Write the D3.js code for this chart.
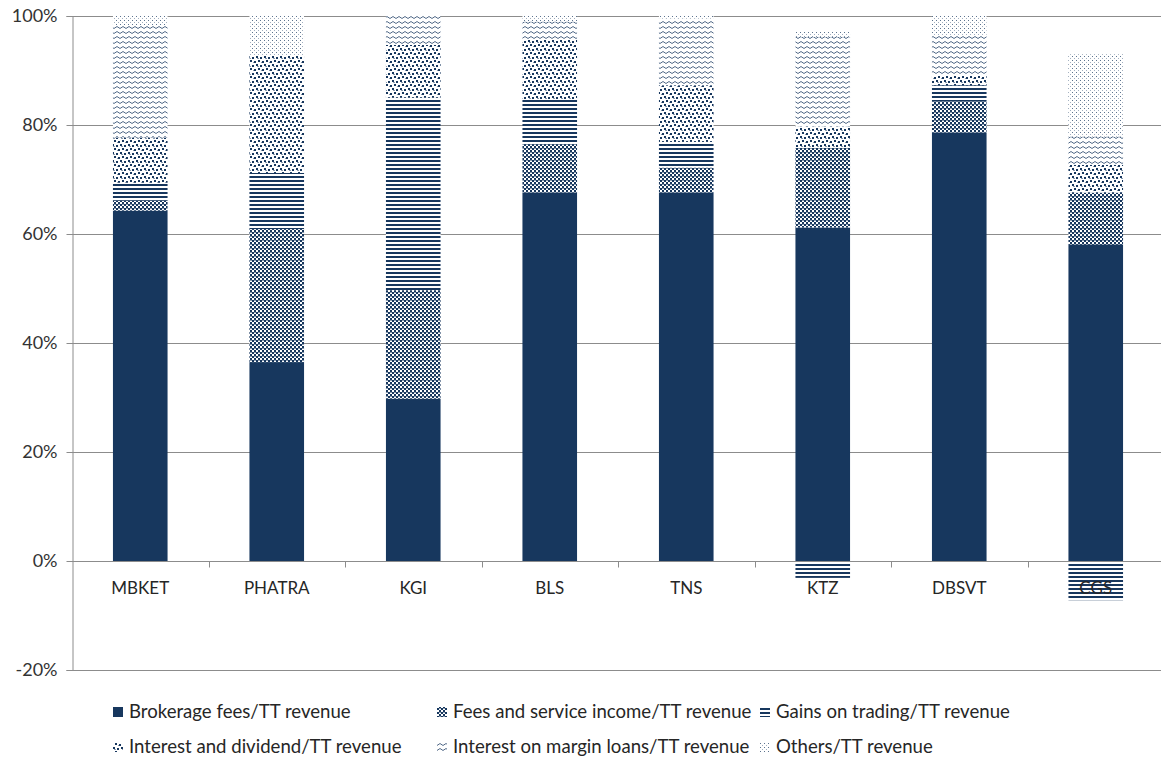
<!DOCTYPE html>
<html>
<head>
<meta charset="utf-8">
<script src="https://cdn.jsdelivr.net/npm/d3@7"></script>
<style>
  body { margin: 0; background: #fff; }
  svg { display: block; font-family: Lato, "Open Sans", sans-serif; }
</style>
</head>
<body>
<svg id="chart" width="1161" height="761"></svg>
<script>
// values, in percent of total revenue
const categories = ["MBKET", "PHATRA", "KGI", "BLS", "TNS", "KTZ", "DBSVT", "CGS"];
const brokerage = [64.3, 36.5, 29.8, 67.6, 67.6, 61.2, 78.6, 58.0];
const feesService = [1.8, 24.4, 19.9, 8.9, 4.6, 14.6, 5.7, 9.6];
const gainsTrading = [3.3, 10.3, 35.3, 8.1, 4.7, -3.1, 3.0, -7.2];
const interestDividend = [8.3, 21.6, 9.7, 11.0, 10.4, 3.9, 1.9, 5.1];
const marginLoans = [20.6, 0, 5.3, 3.4, 12.2, 16.5, 7.3, 5.2];
const others = [1.7, 7.2, 0, 1.0, 0.5, 0.9, 3.5, 15.1];
const seriesNames = [
  "Brokerage fees/TT revenue",
  "Fees and service income/TT revenue",
  "Gains on trading/TT revenue",
  "Interest and dividend/TT revenue",
  "Interest on margin loans/TT revenue",
  "Others/TT revenue"
];
const yTicks = [-20, 0, 20, 40, 60, 80, 100];

const navy = "#17375e";
const width = 1161, height = 761;
const margin = { left: 72, right: -3, top: 16, bottom: 91 };

const svg = d3.select("#chart");
const defs = svg.append("defs");

// Excel-like pattern fills
const pFees = defs.append("pattern").attr("id", "p1").attr("patternUnits", "userSpaceOnUse")
  .attr("width", 4).attr("height", 4);
pFees.append("rect").attr("width", 4).attr("height", 4).attr("fill", "#fff");
pFees.append("rect").attr("x", 0).attr("y", 0).attr("width", 2).attr("height", 2).attr("fill", navy);
pFees.append("rect").attr("x", 2).attr("y", 2).attr("width", 2).attr("height", 2).attr("fill", navy);
pFees.append("rect").attr("x", 2).attr("y", 0).attr("width", 2).attr("height", 1).attr("fill", navy).attr("opacity", 0.5);

const pGains = defs.append("pattern").attr("id", "p2").attr("patternUnits", "userSpaceOnUse")
  .attr("width", 4).attr("height", 4);
pGains.append("rect").attr("width", 4).attr("height", 4).attr("fill", "#fff");
pGains.append("rect").attr("x", 0).attr("y", 0).attr("width", 4).attr("height", 2).attr("fill", navy);

const pInt = defs.append("pattern").attr("id", "p3").attr("patternUnits", "userSpaceOnUse")
  .attr("width", 8).attr("height", 8);
pInt.append("rect").attr("width", 8).attr("height", 8).attr("fill", "#fff");
[[0, 0], [4, 1], [2, 4], [6, 5], [1, 2], [5, 6]].forEach(([x, y], i) => {
  pInt.append("rect").attr("x", x).attr("y", y).attr("width", 2).attr("height", i < 4 ? 2 : 1)
    .attr("fill", navy).attr("opacity", i < 4 ? 1 : 0.5);
});

const pMargin = defs.append("pattern").attr("id", "p4").attr("patternUnits", "userSpaceOnUse")
  .attr("width", 6).attr("height", 5);
pMargin.append("rect").attr("width", 6).attr("height", 5).attr("fill", "#fff");
pMargin.append("path").attr("d", "M0,3.5 L3,1.5 L6,3.5").attr("fill", "none")
  .attr("stroke", navy).attr("stroke-width", 1).attr("stroke-opacity", 0.75);

const pOthers = defs.append("pattern").attr("id", "p5").attr("patternUnits", "userSpaceOnUse")
  .attr("width", 4).attr("height", 4);
pOthers.append("rect").attr("width", 4).attr("height", 4).attr("fill", "#fff");
pOthers.append("rect").attr("x", 0).attr("y", 0).attr("width", 1).attr("height", 1).attr("fill", navy).attr("opacity", 0.7);
pOthers.append("rect").attr("x", 2).attr("y", 2).attr("width", 1).attr("height", 1).attr("fill", navy).attr("opacity", 0.4);

const fills = [navy, "url(#p1)", "url(#p2)", "url(#p3)", "url(#p4)", "url(#p5)"];

const table = categories.map((c, i) => ({
  cat: c,
  s0: brokerage[i], s1: feesService[i], s2: gainsTrading[i],
  s3: interestDividend[i], s4: marginLoans[i], s5: others[i]
}));
const keys = ["s0", "s1", "s2", "s3", "s4", "s5"];
const stacked = d3.stack().keys(keys).offset(d3.stackOffsetDiverging)(table);

const x = d3.scaleBand().domain(categories)
  .range([margin.left, width - margin.right])
  .paddingInner(0.6).paddingOuter(0.3);
const y = d3.scaleLinear().domain([-20, 100]).range([height - margin.bottom, margin.top]);

// gridlines
svg.append("g").selectAll("line").data(yTicks.filter(t => t !== 0)).enter().append("line")
  .attr("x1", margin.left).attr("x2", width)
  .attr("y1", d => Math.round(y(d)) + 0.5).attr("y2", d => Math.round(y(d)) + 0.5)
  .attr("stroke", "#8c8c8c").attr("stroke-width", 1);

// bars
svg.append("g").selectAll("g").data(stacked).enter().append("g")
  .attr("fill", (d, i) => fills[i])
  .selectAll("rect").data(d => d).enter().append("rect")
  .attr("x", d => x(d.data.cat))
  .attr("width", x.bandwidth())
  .attr("y", d => y(d[1]))
  .attr("height", d => Math.max(0, y(d[0]) - y(d[1])));

// y axis
const yAxis = svg.append("g").attr("transform", `translate(${margin.left + 0.5},0)`)
  .call(d3.axisLeft(y).tickValues(yTicks).tickFormat(d => d + "%").tickSize(6).tickPadding(9));
yAxis.select(".domain").attr("stroke", "#8c8c8c");
yAxis.selectAll(".tick line").attr("stroke", "#8c8c8c");
yAxis.selectAll("text").attr("font-size", 18).attr("fill", "#333").attr("font-family", "Lato, sans-serif");

// x axis at 0%
const y0 = Math.round(y(0)) + 0.5;
svg.append("line").attr("x1", margin.left).attr("x2", width).attr("y1", y0).attr("y2", y0)
  .attr("stroke", "#8c8c8c");
const bounds = categories.slice(1).map(c => x(c) - x.step() * x.paddingInner() / 2);
svg.append("g").selectAll("line").data(bounds).enter().append("line")
  .attr("x1", d => Math.round(d) + 0.5).attr("x2", d => Math.round(d) + 0.5)
  .attr("y1", y0).attr("y2", y0 + 6).attr("stroke", "#8c8c8c");
svg.append("g").selectAll("text").data(categories).enter().append("text")
  .attr("x", d => x(d) + x.bandwidth() / 2)
  .attr("y", y0 + 32)
  .attr("text-anchor", "middle")
  .attr("font-size", 17).attr("fill", "#262626")
  .text(d => d);

// legend
const legendPos = [[113, 712], [437, 712], [760, 712], [113, 747], [437, 747], [760, 747]];
const legend = svg.append("g").selectAll("g").data(seriesNames).enter().append("g")
  .attr("transform", (d, i) => `translate(${legendPos[i][0]},${legendPos[i][1]})`);
legend.append("rect").attr("x", 0).attr("y", -5).attr("width", 10).attr("height", 10)
  .attr("fill", (d, i) => fills[i]);
legend.append("text").attr("x", 16).attr("y", 6)
  .attr("font-size", 18.6).attr("fill", "#262626")
  .text(d => d);
</script>
</body>
</html>
